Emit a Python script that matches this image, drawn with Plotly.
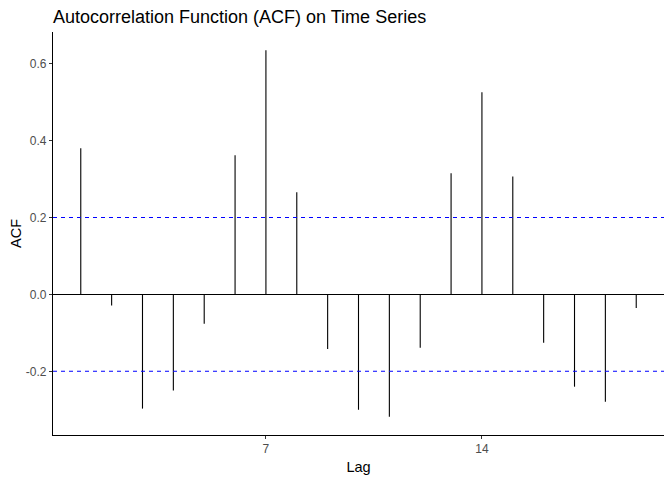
import plotly.graph_objects as go

# ACF values
lags = list(range(1, 20))
acf = [0.380, -0.029, -0.297, -0.250, -0.076, 0.362, 0.635, 0.266, -0.142, -0.300,
       -0.318, -0.139, 0.315, 0.526, 0.307, -0.126, -0.240, -0.279, -0.035]
conf_bound = 0.2
y_ticks = [-0.2, 0.0, 0.2, 0.4, 0.6]
x_ticks = [7, 14]

# vertical segments from 0 to each acf value
seg_x = []
seg_y = []
for lag, val in zip(lags, acf):
    seg_x += [lag, lag, None]
    seg_y += [0, val, None]

fig = go.Figure()
fig.add_trace(go.Scatter(x=seg_x, y=seg_y, mode='lines',
                         line=dict(color='black', width=1.1),
                         hoverinfo='skip', showlegend=False))

# zero line and confidence bounds
fig.add_shape(type='line', xref='paper', x0=0, x1=1, yref='y', y0=0, y1=0,
              line=dict(color='black', width=1.1), layer='below')
for b in (conf_bound, -conf_bound):
    fig.add_shape(type='line', xref='paper', x0=0, x1=1, yref='y', y0=b, y1=b,
                  line=dict(color='#0000FF', width=1.1, dash='4px,4px'))

lo = min(min(acf), -conf_bound)
hi = max(max(acf), conf_bound)
pad = (hi - lo) * 0.05

# page body has an 8px margin, so the figure is 8px smaller each way
W, H = 664, 472
fig.update_layout(
    width=W, height=H,
    paper_bgcolor='white', plot_bgcolor='white',
    margin=dict(l=45, r=8, t=24, b=45),
    font=dict(family='Liberation Sans, Arial, sans-serif', color='black'),
    title=dict(text='Autocorrelation Function (ACF) on Time Series',
               x=45 / W, xanchor='left', y=1 - 9 / H, yanchor='middle',
               font=dict(size=18, color='black')),
    xaxis=dict(
        title=dict(text='Lag', font=dict(size=14.5, color='black'), standoff=6),
        range=[lags[0] - (lags[-1] - lags[0]) * 0.05, lags[-1] + (lags[-1] - lags[0]) * 0.05],
        tickvals=x_ticks, ticktext=[str(t) for t in x_ticks],
        ticks='outside', ticklen=3, tickwidth=1, tickcolor='#333333',
        tickfont=dict(size=12, color='#4d4d4d'),
        showline=True, linecolor='black', linewidth=1.1,
        showgrid=False, zeroline=False, automargin=False,
    ),
    yaxis=dict(
        title=dict(text='ACF', font=dict(size=14.5, color='black'), standoff=6),
        range=[lo - pad, hi + pad],
        tickvals=y_ticks, ticktext=['%.1f' % t for t in y_ticks],
        ticks='outside', ticklen=3, tickwidth=1, tickcolor='#333333',
        tickfont=dict(size=12, color='#4d4d4d'),
        showline=True, linecolor='black', linewidth=1.1,
        showgrid=False, zeroline=False, automargin=False,
    ),
)

fig.write_html("out.html")
